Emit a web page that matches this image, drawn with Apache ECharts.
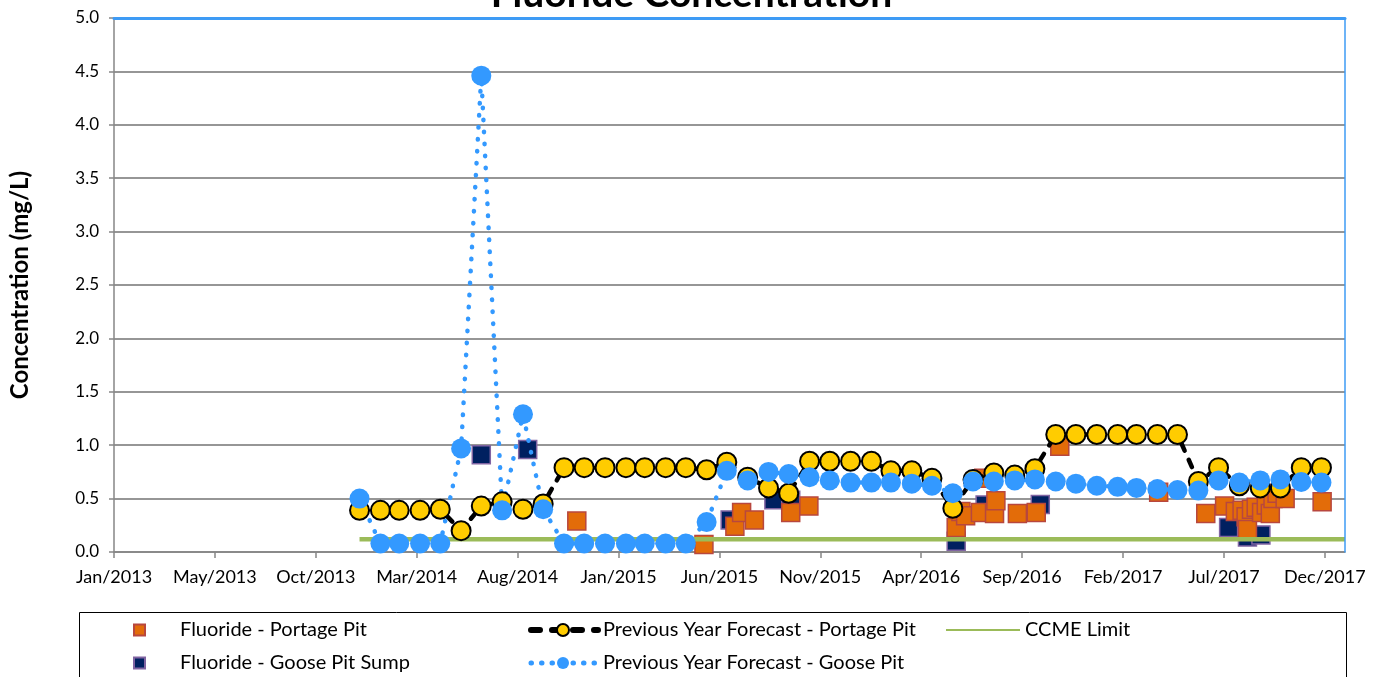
<!DOCTYPE html>
<html>
<head>
<meta charset="utf-8">
<script src="https://cdn.jsdelivr.net/npm/echarts@6/dist/echarts.min.js"></script>
<style>
html,body{margin:0;padding:0;background:#fff;}
#chart{width:1383px;height:677px;}
</style>
</head>
<body>
<div id="chart"></div>
<script>
// ---------- DATA ----------
const tickLabels = ['Jan/2013','May/2013','Oct/2013','Mar/2014','Aug/2014','Jan/2015','Jun/2015','Nov/2015','Apr/2016','Sep/2016','Feb/2017','Jul/2017','Dec/2017'];

const forecastMonths = [
 '2014-01-01','2014-02-01','2014-03-01','2014-04-01','2014-05-01','2014-06-01','2014-07-01','2014-08-01','2014-09-01','2014-10-01','2014-11-01','2014-12-01',
 '2015-01-01','2015-02-01','2015-03-01','2015-04-01','2015-05-01','2015-06-01','2015-07-01','2015-08-01','2015-09-01','2015-10-01','2015-11-01','2015-12-01',
 '2016-01-01','2016-02-01','2016-03-01','2016-04-01','2016-05-01','2016-06-01','2016-07-01','2016-08-01','2016-09-01','2016-10-01','2016-11-01','2016-12-01',
 '2017-01-01','2017-02-01','2017-03-01','2017-04-01','2017-05-01','2017-06-01','2017-07-01','2017-08-01','2017-09-01','2017-10-01','2017-11-01','2017-12-01'
];
const portageForecast = [
 0.39,0.39,0.39,0.39,0.40,0.20,0.43,0.47,0.40,0.45,0.79,0.79,
 0.79,0.79,0.79,0.79,0.79,0.77,0.84,0.70,0.60,0.55,0.85,0.85,
 0.85,0.85,0.76,0.76,0.69,0.41,0.68,0.74,0.72,0.78,1.10,1.10,
 1.10,1.10,1.10,1.10,1.10,0.66,0.79,0.62,0.60,0.60,0.79,0.79
];
const gooseForecast = [
 0.50,0.08,0.08,0.08,0.08,0.97,4.46,0.39,1.29,0.40,0.08,0.08,
 0.08,0.08,0.08,0.08,0.08,0.28,0.76,0.67,0.75,0.73,0.70,0.67,
 0.65,0.65,0.65,0.64,0.62,0.55,0.66,0.66,0.67,0.68,0.66,0.64,
 0.62,0.61,0.60,0.59,0.58,0.575,0.67,0.65,0.67,0.68,0.655,0.65
];
const portageDates = [
 '2014-11-20','2015-05-28','2015-07-13','2015-07-23','2015-08-11','2015-10-04','2015-10-31',
 '2016-06-06','2016-06-13','2016-06-20','2016-07-12','2016-07-17','2016-08-02','2016-08-04','2016-09-05','2016-10-03','2016-11-07',
 '2017-04-03','2017-06-12','2017-07-10','2017-07-26','2017-08-05','2017-08-11','2017-08-13','2017-08-19','2017-08-26',
 '2017-09-03','2017-09-10','2017-09-16','2017-09-20','2017-09-26','2017-10-08','2017-12-02'
];
const portageValues = [
 0.29,0.07,0.24,0.37,0.30,0.37,0.43,
 0.23,0.38,0.34,0.37,0.69,0.36,0.48,0.36,0.37,0.99,
 0.56,0.36,0.43,0.38,0.39,0.33,0.21,0.40,0.42,
 0.37,0.44,0.36,0.50,0.55,0.50,0.47
];
const gooseSumpDates = ['2014-07-01','2014-09-08','2015-07-06','2015-09-09','2015-10-04','2016-06-06','2016-07-19','2016-10-09','2017-07-16','2017-08-13','2017-09-02'];
const gooseSumpValues = [0.91,0.96,0.30,0.49,0.485,0.10,0.44,0.445,0.23,0.14,0.16];
const ccmeDates = ['2014-01-01','2018-01-05'];
const ccmeValues = [0.12,0.12];

// ---------- HELPERS ----------
const ORIGIN = Date.UTC(2013,0,1);
function dayOf(s){const p=s.split('-').map(Number);return (Date.UTC(p[0],p[1]-1,p[2])-ORIGIN)/86400000;}
function pairs(dates, vals){return dates.map((d,i)=>[dayOf(d), vals[i]]);}

const FONT = 'Lato, "Open Sans", sans-serif';
const chart = echarts.init(document.getElementById('chart'));
const legendText = {fontFamily:FONT,fontSize:20,color:'#000',lineHeight:20};

const option = {
  animation:false,
  backgroundColor:'#fff',
  title:{
    text:'Fluoride Concentration', left:'center', top:-30,
    textStyle:{fontFamily:FONT,fontWeight:'bold',fontSize:39,color:'#000'}
  },
  grid:{left:111,right:38,top:18,bottom:125,containLabel:false},
  xAxis:[{
    type:'value', min:0, max:1830, interval:150,
    axisLine:{onZero:false,lineStyle:{color:'#868686',width:1.5}},
    axisTick:{show:true,length:6,lineStyle:{color:'#868686',width:1.5}},
    axisLabel:{
      margin:16, color:'#000', fontFamily:FONT, fontSize:18, showMaxLabel:false,
      formatter:function(v){const i=v/150; return Number.isInteger(i)&&tickLabels[i]?tickLabels[i]:'';}
    },
    splitLine:{show:false}
  },{
    type:'value', position:'top', min:0, max:1830, z:10,
    axisLine:{onZero:false,lineStyle:{color:'#3E9BF5',width:3}},
    axisTick:{show:false}, axisLabel:{show:false}, splitLine:{show:false}
  }],
  yAxis:[{
    type:'value', min:0, max:5, interval:0.5,
    name:'Concentration (mg/L)', nameLocation:'middle', nameRotate:90, nameGap:82,
    nameTextStyle:{fontFamily:FONT,fontWeight:'bold',fontSize:24,color:'#000'},
    axisLine:{show:true,onZero:false,lineStyle:{color:'#868686',width:1.5}},
    axisTick:{show:true,length:5,lineStyle:{color:'#868686',width:1.5}},
    axisLabel:{margin:15,color:'#000',fontFamily:FONT,fontSize:17,formatter:v=>v.toFixed(1)},
    splitLine:{show:true,lineStyle:{color:'#969696',width:2}}
  },{
    type:'value', position:'right', min:0, max:5, z:10,
    axisLine:{show:true,onZero:false,lineStyle:{color:'#3E9BF5',width:1.5}},
    axisTick:{show:false}, axisLabel:{show:false}, splitLine:{show:false}
  }],
  legend:[
    {left:133, top:620, orient:'vertical', padding:0, itemWidth:11, itemHeight:11, itemGap:13,
     data:['Fluoride - Portage Pit','Fluoride - Goose Pit Sump'],
     textStyle:Object.assign({padding:[0,0,0,30]},legendText)},
    {left:525, top:620, orient:'vertical', padding:0, itemWidth:70, itemHeight:15, itemGap:13,
     data:[
       {name:'Previous Year Forecast - Portage Pit', lineStyle:{width:6,type:[9,12],cap:'round',dashOffset:-3}},
       {name:'Previous Year Forecast - Goose Pit', lineStyle:{width:5,type:[0.5,10]}}
     ],
     textStyle:legendText},
    {left:945, top:620, orient:'vertical', padding:0, itemWidth:74, itemHeight:15, itemGap:13,
     data:[{name:'CCME Limit', itemStyle:{opacity:0}}],
     textStyle:legendText}
  ],
  graphic:[{
    type:'rect', silent:true, z:-1,
    shape:{x:79.5,y:612.5,width:1267,height:100},
    style:{fill:'none',stroke:'#000',lineWidth:1}
  }],
  series:[
    {name:'CCME Limit', type:'line', data:pairs(ccmeDates,ccmeValues), symbol:'none',
     lineStyle:{color:'#9BBB59',width:4.5}, itemStyle:{color:'#9BBB59'}},
    {name:'Previous Year Forecast - Portage Pit', type:'line', data:pairs(forecastMonths,portageForecast),
     symbol:'circle', symbolSize:19, showSymbol:true,
     lineStyle:{color:'#000',width:4.5,type:[8,10],cap:'round'},
     itemStyle:{color:'#FFCC00',borderColor:'#000',borderWidth:2}},
    {name:'Fluoride - Goose Pit Sump', type:'scatter', data:pairs(gooseSumpDates,gooseSumpValues),
     symbol:'rect', symbolSize:18,
     itemStyle:{color:'#002060',borderColor:'#8064A2',borderWidth:1.5,opacity:1}},
    {name:'Previous Year Forecast - Goose Pit', type:'line', data:pairs(forecastMonths,gooseForecast),
     symbol:'circle', symbolSize:20, showSymbol:true,
     lineStyle:{color:'#3399FF',width:4.5,type:[0.5,11.5],cap:'round'},
     itemStyle:{color:'#3399FF',borderWidth:0}},
    {name:'Fluoride - Portage Pit', type:'scatter', data:pairs(portageDates,portageValues),
     symbol:'rect', symbolSize:18,
     itemStyle:{color:'#E36C09',borderColor:'#B8473E',borderWidth:1.5,opacity:1}}
  ]
};
chart.setOption(option);
</script>
</body>
</html>
